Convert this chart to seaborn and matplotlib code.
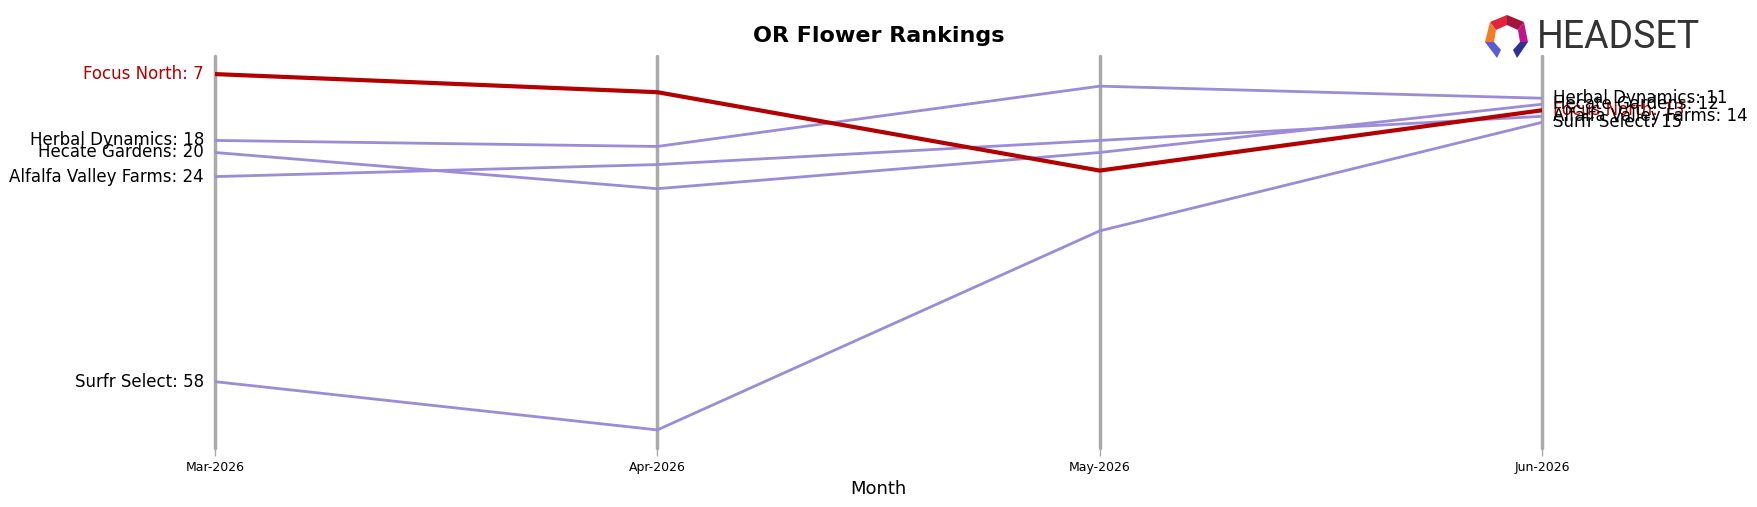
import pandas as pd
import numpy as np
import seaborn as sns
import matplotlib.pyplot as plt
from matplotlib.patches import Polygon

months = ['Mar-2026', 'Apr-2026', 'May-2026', 'Jun-2026']
brands = ['Focus North', 'Herbal Dynamics', 'Hecate Gardens', 'Alfalfa Valley Farms', 'Surfr Select']
focus_north = [7, 10, 23, 13]
herbal_dynamics = [18, 19, 9, 11]
hecate_gardens = [20, 26, 20, 12]
alfalfa_valley = [24, 22, 18, 14]
surfr_select = [58, 66, 33, 15]

ranks = [focus_north, herbal_dynamics, hecate_gardens, alfalfa_valley, surfr_select]
rows = []
for b, r in zip(brands, ranks):
    for i, v in enumerate(r):
        rows.append({'brand': b, 'month': i, 'rank': v})
df = pd.DataFrame(rows)

red = '#b30000'
purple = '#9b8bd9'
palette = {b: (red if b == 'Focus North' else purple) for b in brands}

sns.set_style('white')
plt.rcParams['text.color'] = 'black'
plt.rcParams['axes.labelcolor'] = 'black'
plt.rcParams['xtick.labelcolor'] = 'black'

fig = plt.figure(figsize=(17.57, 5.07), dpi=100)
ax = fig.add_axes([215 / 1757, 1 - 448 / 507, (1542 - 215) / 1757, (448 - 56) / 507])

for i in range(len(months)):
    ax.axvline(i, color='#aaaaaa', lw=2.5, zorder=0, clip_on=False)

others = df[df['brand'] != 'Focus North']
sns.lineplot(data=others, x='month', y='rank', hue='brand', palette=palette,
             lw=2, legend=False, ax=ax, sort=False, estimator=None)
sns.lineplot(data=df[df['brand'] == 'Focus North'], x='month', y='rank', color=red,
             lw=3, legend=False, ax=ax, estimator=None)

ax.set_xlim(0, len(months) - 1)
ax.set_ylim(69, 4)
for s in ax.spines.values():
    s.set_visible(False)
ax.set_yticks([])
ax.set_ylabel('')
ax.set_xticks(range(len(months)))
ax.set_xticklabels(months, fontsize=9)
ax.tick_params(axis='x', length=6, color='#aaaaaa', width=1, bottom=True)
ax.set_xlabel('Month', fontsize=13)
ax.set_title('OR Flower Rankings', fontsize=16, fontweight='bold', pad=10, color='black')

for b, r in zip(brands, ranks):
    c = red if b == 'Focus North' else 'black'
    ax.text(-0.025, r[0], f'{b}: {r[0]}', ha='right', va='center', fontsize=12, color=c)
    ax.text(len(months) - 1 + 0.025, r[-1], f'{b}: {r[-1]}', ha='left', va='center', fontsize=12, color=c)

# logo
def fpoly(pts, color):
    p = Polygon([(x / 1757, 1 - y / 507) for x, y in pts], closed=True,
                facecolor=color, edgecolor='none', transform=fig.transFigure)
    fig.add_artist(p)

fpoly([(1490, 22), (1507, 15), (1507, 25), (1496, 30)], '#e0243c')
fpoly([(1507, 15), (1524, 22), (1518, 30), (1507, 25)], '#a3163a')
fpoly([(1490, 22), (1496, 30), (1494, 42), (1485, 42)], '#f47b25')
fpoly([(1524, 22), (1528, 42), (1520, 42), (1518, 30)], '#c0158a')
fpoly([(1485, 42), (1494, 42), (1501, 50), (1497, 58)], '#5b5bd6')
fpoly([(1528, 42), (1520, 42), (1513, 50), (1517, 58)], '#2e3192')
fig.text(1537 / 1757, 1 - 38 / 507, 'HEADSET', fontsize=27, color='#333333',
         family='Roboto', ha='left', va='center')

fig.savefig('out.png', dpi=100)
